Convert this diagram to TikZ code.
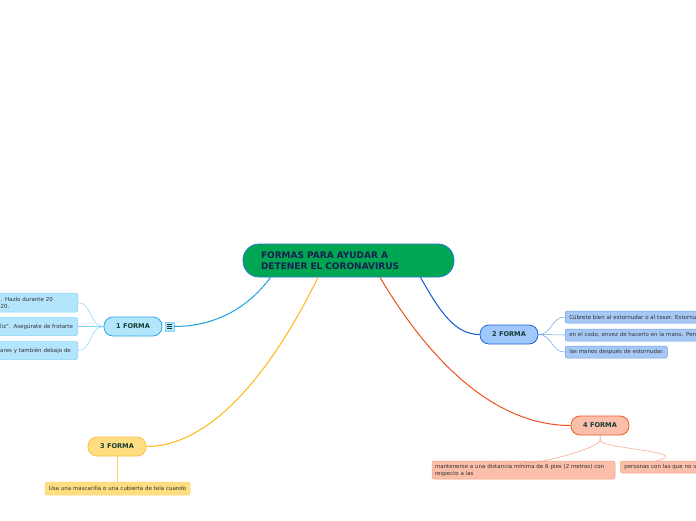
\documentclass[tikz,border=0pt]{standalone}
\usepackage{fontspec}
\setmainfont{DejaVu Sans}
\usetikzlibrary{calc}
\definecolor{cgreen}{RGB}{0,166,81}
\definecolor{cborder}{RGB}{40,120,215}
\definecolor{navy}{RGB}{25,30,80}
\definecolor{dgreen}{RGB}{20,60,50}
\definecolor{ctext}{RGB}{50,50,50}
\definecolor{oneFill}{RGB}{179,229,252}
\definecolor{oneBorder}{RGB}{41,171,226}
\definecolor{oneLine}{RGB}{27,161,226}
\definecolor{oneKid}{RGB}{129,212,250}
\definecolor{twoFill}{RGB}{160,200,250}
\definecolor{twoBorder}{RGB}{30,100,210}
\definecolor{twoLine}{RGB}{10,90,210}
\definecolor{twoKidFill}{RGB}{166,200,245}
\definecolor{twoKid}{RGB}{110,160,230}
\definecolor{threeFill}{RGB}{255,222,130}
\definecolor{threeBorder}{RGB}{250,195,70}
\definecolor{threeLine}{RGB}{253,185,19}
\definecolor{threeKid}{RGB}{255,210,120}
\definecolor{fourFill}{RGB}{250,190,170}
\definecolor{fourBorder}{RGB}{240,90,40}
\definecolor{fourLine}{RGB}{240,80,30}
\definecolor{fourKid}{RGB}{245,160,130}
\tikzset{
  forma/.style={draw, line width=0.8pt, rounded corners=9pt, minimum width=58pt,
    minimum height=19pt, inner sep=0pt, text=dgreen,
    font=\fontsize{6.6}{7}\selectfont\bfseries},
  kid/.style={draw, line width=0.5pt, rounded corners=2pt, inner sep=0pt,
    text=ctext, font=\fontsize{5.5}{7}\selectfont, align=left},
  kidlink/.style={line width=0.5pt},
}
\begin{document}
\begin{tikzpicture}[x=1pt,y=-1pt]
\useasboundingbox (0,0) rectangle (696,520);
\fill[white] (0,0) rectangle (696,520);
\clip (0,0) rectangle (696,520);

% central
\node[draw=cborder, fill=cgreen, line width=0.8pt, rounded corners=16pt,
  minimum width=211pt, minimum height=33pt, inner xsep=0pt, text width=175pt,
  align=left, text=navy, font=\fontsize{9}{11}\selectfont\bfseries]
  (c) at (348.5,260.5) {FORMAS PARA AYUDAR A\\DETENER EL CORONAVIRUS};

% 1 FORMA
\node[forma, fill=oneFill, draw=oneBorder] (f1) at (133,326.5) {1 FORMA};
\node[draw=oneKid, fill=oneFill, line width=0.4pt, minimum size=9pt, inner sep=0pt] (ic) at (169.5,326.5) {};
\foreach \dy in {-2,0,2}
  \draw[dgreen, line width=0.5pt] ([xshift=-2.2pt,yshift=\dy pt]ic.center) -- ([xshift=2.2pt,yshift=\dy pt]ic.center);
\draw[oneLine, line width=1pt] ([xshift=-78pt]c.south) .. controls (245,312) and (210,326.5) .. (ic.east);

\node[kid, fill=oneFill, draw=oneKid, minimum height=19pt, text width=86pt,
  anchor=east] (k11) at (78,302.5) {\hspace*{9pt}\mbox{. Hazlo durante 20}\\\hspace*{9pt}\mbox{20.}};
\node[kid, fill=oneFill, draw=oneKid, minimum height=18pt, text width=86pt,
  anchor=east] (k12) at (78,326.5) {\hspace*{8.5pt}\mbox{liz". Asegúrate de frotarte}};
\node[kid, fill=oneFill, draw=oneKid, minimum height=18pt, text width=86pt,
  anchor=east] (k13) at (78,350.5) {\hspace*{8.5pt}\mbox{ares y también debajo de}};
\foreach \k in {k11,k12,k13}
  \draw[oneKid, kidlink] (f1.west) .. controls +(-14,0) and ([xshift=14pt]\k.east) .. (\k.east);

% 2 FORMA
\node[forma, fill=twoFill, draw=twoBorder] (f2) at (509,334.5) {2 FORMA};
\draw[twoLine, line width=1pt] ([xshift=72pt]c.south) .. controls (440,312) and (455,334.5) .. (f2.west);
\node[kid, fill=twoKidFill, draw=twoKid, minimum width=170pt, minimum height=12pt,
  text width=162pt, anchor=west, inner xsep=4pt] (k21) at (565,317) {\mbox{Cúbrete bien al estornudar o al toser. Estornuda}};
\node[kid, fill=twoKidFill, draw=twoKid, minimum width=170pt, minimum height=12pt,
  text width=162pt, anchor=west, inner xsep=4pt] (k22) at (565,335) {\mbox{en el codo, envez de hacerlo en la mano. Percibe}};
\node[kid, fill=twoKidFill, draw=twoKid, minimum height=12pt,
  text width=94pt, anchor=west, inner xsep=4pt] (k23) at (565,352) {\mbox{las manos después de estornudar.}};
\foreach \k in {k21,k22,k23}
  \draw[twoKid, kidlink] (f2.east) .. controls +(14,0) and ([xshift=-14pt]\k.west) .. (\k.west);

% 3 FORMA
\node[forma, fill=threeFill, draw=threeBorder] (f3) at (117,446.5) {3 FORMA};
\draw[threeLine, line width=1pt] ([xshift=-30.5pt]c.south) .. controls (265,385) and (205,446.5) .. (f3.east);
\node[kid, fill=threeFill, draw=threeKid, minimum width=145pt, minimum height=13pt,
  text width=141pt, align=center] (k31) at (117.5,488.5) {\mbox{Usa una mascarilla o una cubierta de tela cuando}};
\draw[threeKid, kidlink] (f3.south) -- (f3.south |- k31.north);

% 4 FORMA
\node[forma, fill=fourFill, draw=fourBorder] (f4) at (600,425.5) {4 FORMA};
\draw[fourLine, line width=1pt] ([xshift=31.5pt]c.south) .. controls (435,370) and (500,425.5) .. (f4.west);
\node[kid, fill=fourFill, draw=fourKid, minimum width=183pt, minimum height=18pt,
  text width=177pt] (k41) at (523.5,470) {\mbox{mantenerse a una distancia mínima de 6 pies (2 metros) con}\\respecto a las};
\node[kid, fill=fourFill, draw=fourKid, minimum height=12pt,
  text width=100pt, anchor=west, inner xsep=4pt] (k42) at (620,467) {\mbox{personas con las que no vives}};
\draw[fourKid, kidlink] (f4.south) -- ++(0,5) .. controls +(0,8) and ([yshift=-8pt]k41.north) .. (k41.north);
\draw[fourKid, kidlink] (f4.south) -- ++(0,5) .. controls +(0,8) and (696,452) .. ([xshift=-18pt]k42.north);
\end{tikzpicture}
\end{document}
